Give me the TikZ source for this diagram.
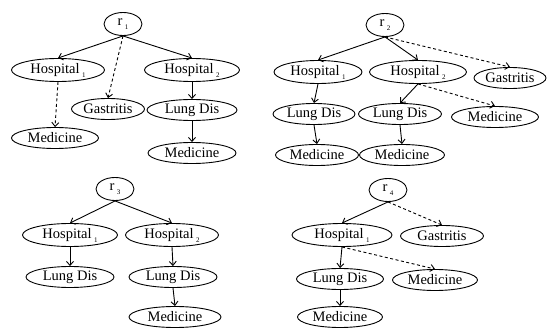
\documentclass[tikz,border=0pt]{standalone}
\usepackage{fontspec}
\setmainfont{Liberation Serif}
\usetikzlibrary{shapes.geometric,arrows.meta}
\newcommand{\sbx}[1]{\,\raisebox{-4pt}{\scriptsize #1}}
\tikzset{
  el/.style={ellipse,draw,line width=0.9pt,inner sep=0pt,minimum height=21pt,font=\fontsize{14.5}{14.5}\selectfont},
  hn/.style={el,minimum height=23pt},
  rn/.style={el,minimum width=38pt,minimum height=23pt},
  arr/.style={line width=0.9pt,-{Straight Barb[length=4pt,width=7pt]}},
  darr/.style={arr,dash pattern=on 3pt off 2.5pt}
}
\begin{document}
\begin{tikzpicture}[x=1pt,y=-1pt]
\useasboundingbox (0,0) rectangle (550,329);
% panel 1
\node[rn] (a0) at (123,24) {r\sbx{1}};
\node[hn,minimum width=93pt] (a1) at (58,70) {Hospital\sbx{1}};
\node[hn,minimum width=95pt] (a2) at (192,70) {Hospital\sbx{2}};
\node[el,minimum width=73pt] (a3) at (108,109) {Gastritis};
\node[el,minimum width=90pt] (a4) at (192,110) {Lung Dis};
\node[el,minimum width=87pt] (a5) at (55,138) {Medicine};
\node[el,minimum width=88pt] (a6) at (192,153) {Medicine};
\draw[arr] (a0.south) -- (a1.north);
\draw[arr] (a0.south) -- (a2.north);
\draw[darr] (a0.south) -- (a3.north);
\draw[darr] (a1.south) -- (a5.north);
\draw[arr] (a2.south) -- (a4.north);
\draw[arr] (a4.south) -- (a6.north);
% panel 2
\node[rn] (b0) at (385,25) {r\sbx{2}};
\node[hn,minimum width=88pt] (b1) at (318,72) {Hospital\sbx{1}};
\node[hn,minimum width=97pt] (b2) at (418,72) {Hospital\sbx{2}};
\node[el,minimum width=72pt] (b3) at (510,78) {Gastritis};
\node[el,minimum width=82pt] (b4) at (314,114) {Lung Dis};
\node[el,minimum width=83pt] (b5) at (400,114) {Lung Dis};
\node[el,minimum width=87pt] (b6) at (495,117) {Medicine};
\node[el,minimum width=83pt] (b7) at (317,155) {Medicine};
\node[el,minimum width=85pt] (b8) at (402,155) {Medicine};
\draw[arr] (b0.south) -- (b1.north);
\draw[arr] (b0.south) -- (b2.north);
\draw[darr] (b0.south) -- (b3.north);
\draw[arr] (b1.south) -- (b4.north);
\draw[arr] (b4.south) -- (b7.north);
\draw[arr] (b2.south) -- (b5.north);
\draw[darr] (b2.south) -- (b6.north);
\draw[arr] (b5.south) -- (b8.north);
% panel 3
\node[rn] (c0) at (115,189) {r\sbx{3}};
\node[hn,minimum width=95pt] (c1) at (70,235) {Hospital\sbx{1}};
\node[hn,minimum width=93pt] (c2) at (172,235) {Hospital\sbx{2}};
\node[el,minimum width=88pt] (c3) at (70,277) {Lung Dis};
\node[el,minimum width=88pt] (c4) at (173,277) {Lung Dis};
\node[el,minimum width=92pt] (c5) at (175,317) {Medicine};
\draw[arr] (c0.south) -- (c1.north);
\draw[arr] (c0.south) -- (c2.north);
\draw[arr] (c1.south) -- (c3.north);
\draw[arr] (c2.south) -- (c4.north);
\draw[arr] (c4.south) -- (c5.north);
% panel 4
\node[rn] (d0) at (388,190) {r\sbx{4}};
\node[hn,minimum width=100pt] (d1) at (342,235) {Hospital\sbx{1}};
\node[el,minimum width=83pt] (d2) at (442,236) {Gastritis};
\node[el,minimum width=87pt] (d3) at (340,279) {Lung Dis};
\node[el,minimum width=85pt] (d4) at (435,280) {Medicine};
\node[el,minimum width=85pt] (d5) at (340,317) {Medicine};
\draw[arr] (d0.south) -- (d1.north);
\draw[darr] (d0.south) -- (d2.north);
\draw[arr] (d1.south) -- (d3.north);
\draw[darr] (d1.south) -- (d4.north);
\draw[arr] (d3.south) -- (d5.north);
\end{tikzpicture}
\end{document}
